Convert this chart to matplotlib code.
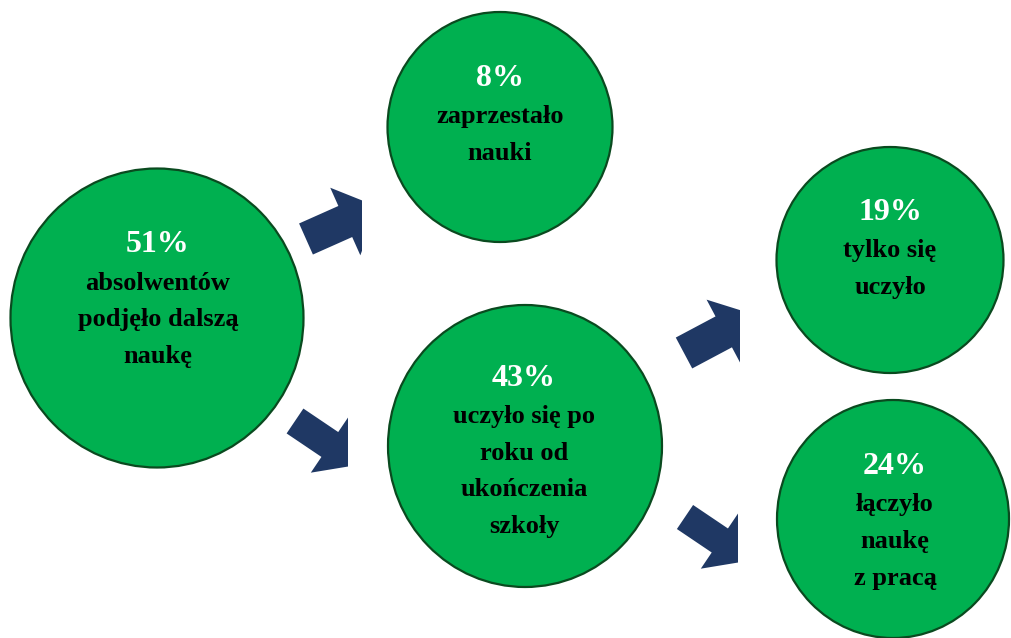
import numpy as np
import matplotlib
matplotlib.use("Agg")
import matplotlib.pyplot as plt
from matplotlib.patches import Ellipse, Polygon, Rectangle

# data
percents = ["51%", "8%", "43%", "19%", "24%"]
descriptions = [
    ["absolwentów", "podjęło dalszą", "naukę"],
    ["zaprzestało", "nauki"],
    ["uczyło się po", "roku od", "ukończenia", "szkoły"],
    ["tylko się", "uczyło"],
    ["łączyło", "naukę", "z pracą"],
]

# layout (pixel space, y down): circle centre, width, height, text x, percent y
circles = [
    (157, 318, 293, 299, 158, 244),
    (500, 127, 225, 230, 500, 78),
    (525, 446, 274, 282, 524, 378),
    (890, 260, 227, 226, 890, 212),
    (893, 519, 232, 238, 895, 466),
]
# arrows: tail centre, angle (deg, up positive), body len, body w, head len, head w, clip x
arrows = [
    (306, 239, 24, 43, 34, 36, 74, 362),
    (295, 421, -34, 42, 30, 36, 68, 348),
    (684, 353, 28, 45, 35, 36, 73, 740),
    (685, 517, -34, 42, 29, 36, 68, 738),
]

green = "#00B050"
edge = "#0A4A1F"
navy = "#1F3864"
W, H = 1011, 638

fig = plt.figure(figsize=(W / 100, H / 100), dpi=100)
ax = fig.add_axes([0, 0, 1, 1])
ax.set_xlim(0, W)
ax.set_ylim(H, 0)
ax.axis("off")


def block_arrow(x0, y0, ang, blen, bw, hlen, hw):
    a = np.deg2rad(ang)
    d = np.array([np.cos(a), -np.sin(a)])
    n = np.array([np.sin(a), np.cos(a)])
    p = np.array([x0, y0])
    base = p + d * blen
    pts = [p - n * bw / 2, base - n * bw / 2, base - n * hw / 2,
           base + d * hlen, base + n * hw / 2, base + n * bw / 2, p + n * bw / 2]
    return np.array(pts)


for x0, y0, ang, blen, bw, hlen, hw, cx in arrows:
    poly = Polygon(block_arrow(x0, y0, ang, blen, bw, hlen, hw), closed=True,
                   facecolor=navy, edgecolor="none")
    ax.add_patch(poly)
    clip = Rectangle((0, 0), cx, H, transform=ax.transData)
    poly.set_clip_path(clip)

for (cx, cy, w, h, tx, py), pct, lines in zip(circles, percents, descriptions):
    ax.add_patch(Ellipse((cx, cy), w, h, facecolor=green, edgecolor=edge, linewidth=1.6))
    ax.text(tx, py, pct, ha="center", va="center", color="white",
            fontsize=23, fontweight="bold", family="Liberation Serif")
    for i, line in enumerate(lines):
        ax.text(tx, py + 39 + i * 36.5, line, ha="center", va="center", color="black",
                fontsize=19, fontweight="bold", family="Liberation Serif")

plt.savefig("out.png", dpi=100)
plt.close()
